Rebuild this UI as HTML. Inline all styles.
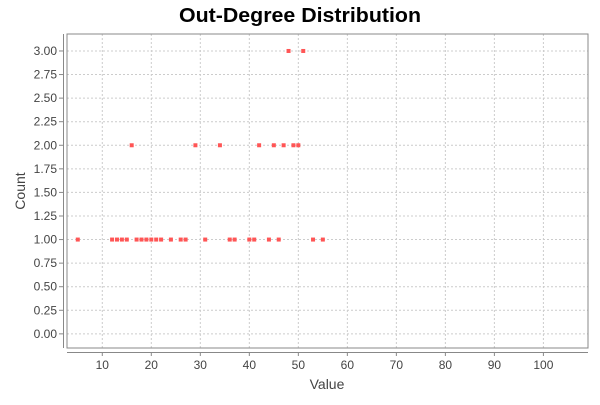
<!DOCTYPE html>
<html><head><meta charset="utf-8"><style>
body{margin:0;background:#fff;font-family:"Liberation Sans",sans-serif}
svg text{font-family:"Liberation Sans",sans-serif}
</style></head><body>
<svg id="chart" width="600" height="400" xmlns="http://www.w3.org/2000/svg">
<rect width="600" height="400" fill="#fff"/>
<text x="300" y="22" text-anchor="middle" font-size="20" font-weight="bold" fill="#000" textLength="242" lengthAdjust="spacingAndGlyphs">Out-Degree Distribution</text>
<g id="grid"></g>
<rect x="67" y="34" width="521" height="314" fill="none" stroke="#888" stroke-width="1"/>
<line x1="63.5" y1="34" x2="63.5" y2="348" stroke="#888"/>
<line x1="67" y1="352.5" x2="588" y2="352.5" stroke="#888"/>
<g id="ticks"></g>
<g id="points"></g>
<text x="327" y="389" text-anchor="middle" font-size="14" fill="#444">Value</text>
<text x="25" y="191" text-anchor="middle" font-size="14" fill="#444" transform="rotate(-90 25 191)">Count</text>
</svg>
<script>
const xValues=[5,12,13,14,15,17,18,19,20,21,22,24,26,27,31,36,37,40,41,44,46,53,55,16,29,34,42,45,47,49,50,48,51];
const yValues=[1,1,1,1,1,1,1,1,1,1,1,1,1,1,1,1,1,1,1,1,1,1,1,2,2,2,2,2,2,2,2,3,3];
const xTicks=[10,20,30,40,50,60,70,80,90,100];
const yTicks=[0,0.25,0.5,0.75,1,1.25,1.5,1.75,2,2.25,2.5,2.75,3];
const xMin=2.8,xMax=109.1,yMin=-0.15,yMax=3.18;
const L=67,R=588,T=34,B=348;
const sx=v=>L+(v-xMin)/(xMax-xMin)*(R-L);
const sy=v=>B-(v-yMin)/(yMax-yMin)*(B-T);
const NS="http://www.w3.org/2000/svg";
const grid=document.getElementById('grid'),ticks=document.getElementById('ticks'),pts=document.getElementById('points');
function mk(tag,attrs,parent){const e=document.createElementNS(NS,tag);for(const k in attrs)e.setAttribute(k,attrs[k]);parent.appendChild(e);return e;}
xTicks.forEach(v=>{const x=sx(v);
 const g=mk('line',{x1:x,y1:T,x2:x,y2:B,stroke:'#cccccc','stroke-dasharray':'2,2'},grid);
 
 
 const t=mk('line',{x1:x,y1:352,x2:x,y2:356,stroke:'#888'},ticks);
 
 
 const l=mk('text',{x:x,y:369,'text-anchor':'middle','font-size':'12',fill:'#444'},ticks);l.textContent=v;
 
 
});
yTicks.forEach(v=>{const y=sy(v);
 const g=mk('line',{x1:L,y1:y,x2:R,y2:y,stroke:'#cccccc','stroke-dasharray':'2,2'},grid);
 
 
 const t=mk('line',{x1:59,y1:y,x2:63.5,y2:y,stroke:'#888'},ticks);
 
 
 const l=mk('text',{x:57,y:y+4,'text-anchor':'end','font-size':'12',fill:'#444'},ticks);l.textContent=v.toFixed(2);
 
 
});
xValues.forEach((v,i)=>{
 const p=mk('rect',{x:sx(v)-2,y:sy(yValues[i])-2,width:4,height:4,fill:'#f55'},pts);
 
 
});
</script>
</body></html>
